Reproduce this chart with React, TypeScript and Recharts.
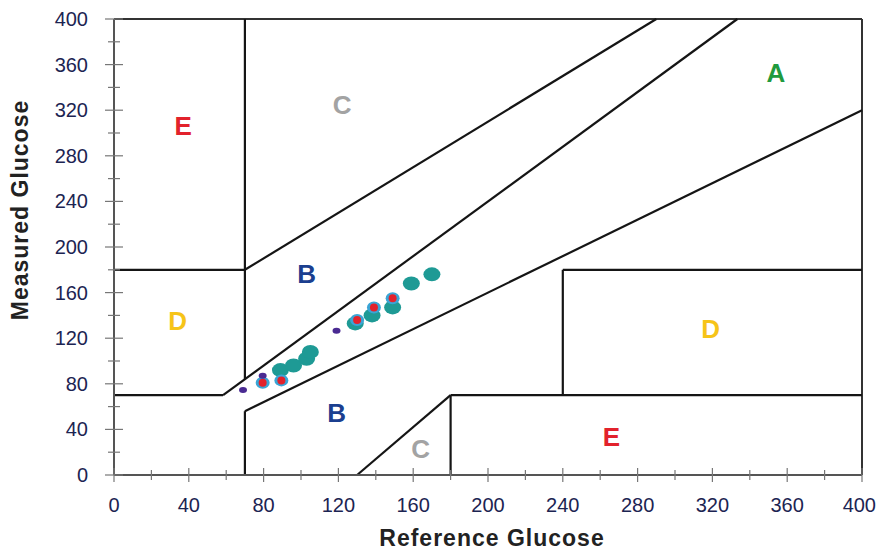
import { ScatterChart, Scatter, XAxis, YAxis, ReferenceLine, Label } from 'recharts';

// axis ticks (majors every 40 get a label, minors every 20)
const xTicks = [0, 20, 40, 60, 80, 100, 120, 140, 160, 180, 200, 220, 240, 260, 280, 300, 320, 340, 360, 380, 400];
const yTicks = [0, 20, 40, 60, 80, 100, 120, 140, 160, 180, 200, 220, 240, 260, 280, 300, 320, 340, 360, 380, 400];

// Clarke error grid zone boundaries: [x1, y1, x2, y2]
const zoneLines = [
  [0, 70, 175 / 3, 70],
  [175 / 3, 70, 400 / 1.2, 400],
  [70, 84, 70, 400],
  [0, 180, 70, 180],
  [70, 180, 290, 400],
  [70, 0, 70, 56],
  [70, 56, 400, 320],
  [180, 0, 180, 70],
  [180, 70, 400, 70],
  [240, 70, 240, 180],
  [240, 180, 400, 180],
  [130, 0, 180, 70],
];

// frame (top and right edges)
const frameLines = [
  [0, 400, 400, 400],
  [400, 0, 400, 400],
];

// zone letters
const zoneLetters = ['E', 'C', 'A', 'B', 'D', 'D', 'B', 'C', 'E'];
const zoneX = [37, 122, 354, 103, 34, 319, 119, 164, 266];
const zoneY = [306, 325, 353, 176, 135, 128, 54, 23, 33];

// measurements
const tealX = [89, 96, 103, 105, 129, 138, 149, 159, 170];
const tealY = [92, 96, 102, 108, 133, 140, 147, 168, 176];
const redX = [79.5, 89.5, 130, 139, 149];
const redY = [81, 83, 136, 147, 155];
const purpleX = [69, 79.5, 119];
const purpleY = [74.5, 87, 126.5];

const zoneColors: Record<string, string> = {
  A: '#1f9a3e',
  B: '#1b3f8f',
  C: '#a3a3a3',
  D: '#f6c418',
  E: '#e2222c',
};

const font = 'Liberation Sans, Arial, sans-serif';

const toPoints = (xs: number[], ys: number[]) => xs.map((x, i) => ({ x, y: ys[i] }));

const zoneData = zoneLetters.map((name, i) => ({ name, x: zoneX[i], y: zoneY[i] }));

function XTick(props: any) {
  const { x, y, payload } = props;
  const v = payload.value;
  const major = v % 40 === 0;
  const len = major ? 7 : 5;
  const last = v === 400;
  return (
    <g>
      <line x1={x} x2={x} y1={y - len} y2={y + len} stroke="#777" strokeWidth={1.2} />
      {major && (
        <text x={last ? x + 14 : x} y={y + 37} textAnchor={last ? 'end' : 'middle'} fontSize={20} fill="#1c2452" fontFamily={font}>
          {v}
        </text>
      )}
    </g>
  );
}

function YTick(props: any) {
  const { x, y, payload } = props;
  const v = payload.value;
  const major = v % 40 === 0;
  const len = major ? 9 : 6;
  return (
    <g>
      <line x1={x - len} x2={x + len} y1={y} y2={y} stroke="#777" strokeWidth={1.2} />
      {major && (
        <text x={x - 26} y={y + 7} textAnchor="end" fontSize={20} fill="#1c2452" fontFamily={font}>
          {v}
        </text>
      )}
    </g>
  );
}

function App() {
  return (
    <div style={{ position: 'absolute', left: 0, top: 0, background: '#fff' }}>
      <ScatterChart width={877} height={551} margin={{ top: 19, right: 15, bottom: 0, left: 0 }}>
        <XAxis
          type="number"
          dataKey="x"
          domain={[0, 400]}
          ticks={xTicks}
          interval={0}
          tickSize={0}
          tickMargin={0}
          tickLine={false}
          tick={<XTick />}
          height={76}
          axisLine={{ stroke: '#555', strokeWidth: 2 }}
        >
          <Label
            content={() => (
              <text
                x={492}
                y={546}
                textAnchor="middle"
                fontSize={23}
                fontWeight="bold"
                fill="#222"
                letterSpacing={1}
                fontFamily={font}
              >
                Reference Glucose
              </text>
            )}
          />
        </XAxis>
        <YAxis
          type="number"
          dataKey="y"
          domain={[0, 400]}
          ticks={yTicks}
          interval={0}
          tickSize={0}
          tickMargin={0}
          tickLine={false}
          tick={<YTick />}
          width={114}
          axisLine={{ stroke: '#555', strokeWidth: 2 }}
        >
          <Label
            content={() => (
              <text
                transform="translate(28,210) rotate(-90)"
                textAnchor="middle"
                fontSize={23}
                fontWeight="bold"
                fill="#222"
                letterSpacing={1}
                fontFamily={font}
              >
                Measured Glucose
              </text>
            )}
          />
        </YAxis>

        {frameLines.map((s, i) => (
          <ReferenceLine
            key={'f' + i}
            segment={[{ x: s[0], y: s[1] }, { x: s[2], y: s[3] }]}
            stroke="#333"
            strokeWidth={2}
          />
        ))}
        {zoneLines.map((s, i) => (
          <ReferenceLine
            key={'z' + i}
            segment={[{ x: s[0], y: s[1] }, { x: s[2], y: s[3] }]}
            stroke="#151515"
            strokeWidth={2.2}
          />
        ))}

        <Scatter
          data={zoneData}
          isAnimationActive={false}
          shape={(p: any) => (
            <text
              x={p.cx}
              y={p.cy + 9}
              textAnchor="middle"
              fontSize={26}
              fontWeight="bold"
              fill={zoneColors[p.payload.name]}
              fontFamily={font}
            >
              {p.payload.name}
            </text>
          )}
        />

        <Scatter
          data={toPoints(tealX, tealY)}
          isAnimationActive={false}
          shape={(p: any) => <ellipse cx={p.cx} cy={p.cy} rx={8.5} ry={7} fill="#1e9a95" />}
        />
        <Scatter
          data={toPoints(redX, redY)}
          isAnimationActive={false}
          shape={(p: any) => (
            <g>
              <ellipse cx={p.cx} cy={p.cy} rx={7} ry={6} fill="#3aa5d6" />
              <circle cx={p.cx} cy={p.cy} r={4} fill="#e2222c" />
            </g>
          )}
        />
        <Scatter
          data={toPoints(purpleX, purpleY)}
          isAnimationActive={false}
          shape={(p: any) => <ellipse cx={p.cx} cy={p.cy} rx={4} ry={3} fill="#4a2a92" />}
        />
      </ScatterChart>
    </div>
  );
}

export default App;
